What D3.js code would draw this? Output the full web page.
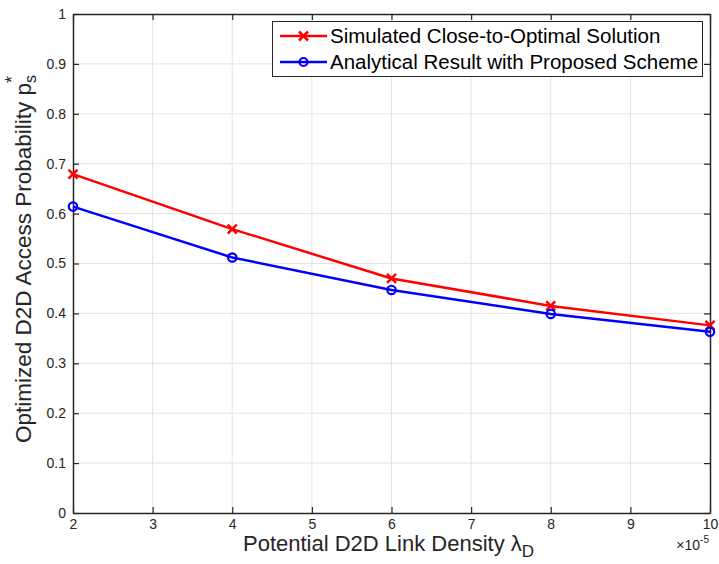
<!DOCTYPE html>
<html>
<head>
<meta charset="utf-8">
<script src="https://cdn.jsdelivr.net/npm/d3@7"></script>
<style>
  body { margin: 0; background: #fff; }
  svg { display: block; font-family: Helvetica, "Liberation Sans", Arial, sans-serif; }
</style>
</head>
<body>
<div id="graph"></div>
<script>
// data (x in units of 1e-5)
const density = [2, 4, 6, 8, 10];
const simulated = [0.679, 0.569, 0.470, 0.415, 0.376];
const analytical = [0.614, 0.512, 0.447, 0.399, 0.363];
const xTicks = [2, 3, 4, 5, 6, 7, 8, 9, 10];
const yTicks = [0, 0.1, 0.2, 0.3, 0.4, 0.5, 0.6, 0.7, 0.8, 0.9, 1];
const seriesNames = ["Simulated Close-to-Optimal Solution", "Analytical Result with Proposed Scheme"];

const width = 719;
const height = 564;
const margin = {top: 14, right: 9, bottom: 51, left: 73};

const svg = d3.select("#graph")
    .append("svg")
    .attr("width", width)
    .attr("height", height);

const x = d3.scaleLinear()
    .domain([2, 10])
    .range([margin.left, width - margin.right]);

const y = d3.scaleLinear()
    .domain([0, 1])
    .range([height - margin.bottom, margin.top]);

const axisColor = "#262626";

// grid
svg.append("g")
    .attr("stroke", "#e3e3e3")
    .attr("stroke-width", 1)
    .selectAll("line.vx")
    .data(xTicks.slice(1, -1))
    .join("line")
      .attr("x1", d => x(d)).attr("x2", d => x(d))
      .attr("y1", y(0)).attr("y2", y(1));

svg.append("g")
    .attr("stroke", "#e3e3e3")
    .attr("stroke-width", 1)
    .selectAll("line")
    .data(yTicks.slice(1, -1))
    .join("line")
      .attr("x1", x(2)).attr("x2", x(10))
      .attr("y1", d => y(d)).attr("y2", d => y(d));

// axes, MATLAB style: ticks pointing inward, box on all sides
function styleAxis(g) {
    g.select(".domain").attr("stroke", axisColor).attr("stroke-width", 1.5);
    g.selectAll(".tick line").attr("stroke", axisColor).attr("stroke-width", 1.2);
    g.selectAll(".tick text").attr("fill", axisColor).attr("font-size", "14px");
}

svg.append("g")
    .attr("transform", `translate(0, ${y(0)})`)
    .call(d3.axisBottom(x).tickValues(xTicks).tickSizeInner(-6).tickSizeOuter(0).tickPadding(6).tickFormat(d3.format("d")))
    .call(styleAxis);

svg.append("g")
    .attr("transform", `translate(0, ${y(1)})`)
    .call(d3.axisTop(x).tickValues(xTicks).tickSizeInner(-6).tickSizeOuter(0).tickFormat(""))
    .call(styleAxis);

svg.append("g")
    .attr("transform", `translate(${x(2)}, 0)`)
    .call(d3.axisLeft(y).tickValues(yTicks).tickSizeInner(-6).tickSizeOuter(0).tickPadding(7).tickFormat(d => d3.format("")(d)))
    .call(styleAxis);

svg.append("g")
    .attr("transform", `translate(${x(10)}, 0)`)
    .call(d3.axisRight(y).tickValues(yTicks).tickSizeInner(-6).tickSizeOuter(0).tickFormat(""))
    .call(styleAxis);

// exponent label
const expo = svg.append("text")
    .attr("x", x(10) - 1)
    .attr("y", y(0) + 37)
    .attr("text-anchor", "end")
    .attr("fill", axisColor)
    .attr("font-size", "14px");
expo.append("tspan").text("\u00d710");
expo.append("tspan").attr("dy", -7).attr("font-size", "10px").text("-5");

// axis labels
const xl = svg.append("text")
    .attr("x", 243)
    .attr("y", 551)
    .attr("fill", axisColor)
    .attr("font-size", "22px");
xl.append("tspan").text("Potential D2D Link Density \u03bb");
xl.append("tspan").attr("dy", 6).attr("font-size", "17px").text("D");

const yl = svg.append("text")
    .attr("transform", `translate(31, 259) rotate(-90)`)
    .attr("text-anchor", "middle")
    .attr("fill", axisColor)
    .attr("font-size", "22.5px");
yl.append("tspan").text("Optimized D2D Access Probability p");
yl.append("tspan").attr("dy", 5).attr("font-size", "16px").text("s");
yl.append("tspan").attr("dy", -18).attr("dx", -8).attr("font-size", "18px").text("*");

// lines
const colors = ["#ff0000", "#0000ff"];
const allSeries = [simulated, analytical];

const line = d3.line()
    .x((d, i) => x(density[i]))
    .y(d => y(d));

allSeries.forEach((vals, s) => {
    svg.append("path")
        .datum(vals)
        .attr("fill", "none")
        .attr("stroke", colors[s])
        .attr("stroke-width", 2.5)
        .attr("d", line);
});

function drawCross(g, cx, cy, r, color) {
    g.append("path")
        .attr("d", `M${cx - r},${cy - r}L${cx + r},${cy + r}M${cx - r},${cy + r}L${cx + r},${cy - r}`)
        .attr("stroke", color)
        .attr("stroke-width", 2.5)
        .attr("fill", "none");
}

function drawCircle(g, cx, cy, r, color) {
    g.append("circle")
        .attr("cx", cx).attr("cy", cy).attr("r", r)
        .attr("stroke", color)
        .attr("stroke-width", 2.2)
        .attr("fill", "none");
}

const markers = svg.append("g");
simulated.forEach((v, i) => drawCross(markers, x(density[i]), y(v), 4.5, colors[0]));
analytical.forEach((v, i) => drawCircle(markers, x(density[i]), y(v), 4.2, colors[1]));

// legend
const legend = svg.append("g");
legend.append("rect")
    .attr("x", 272.5).attr("y", 21.5)
    .attr("width", 430).attr("height", 55)
    .attr("fill", "#fff")
    .attr("stroke", axisColor)
    .attr("stroke-width", 1);

seriesNames.forEach((name, s) => {
    const cy = 36 + s * 26;
    legend.append("line")
        .attr("x1", 280).attr("x2", 327)
        .attr("y1", cy).attr("y2", cy)
        .attr("stroke", colors[s])
        .attr("stroke-width", 2.5);
    if (s === 0) drawCross(legend, 303.5, cy, 4.5, colors[s]);
    else drawCircle(legend, 303.5, cy, 4, colors[s]);
    legend.append("text")
        .attr("x", 330)
        .attr("y", cy + 7)
        .attr("fill", "#000")
        .attr("font-size", "20.5px")
        .text(name);
});
</script>
</body>
</html>
